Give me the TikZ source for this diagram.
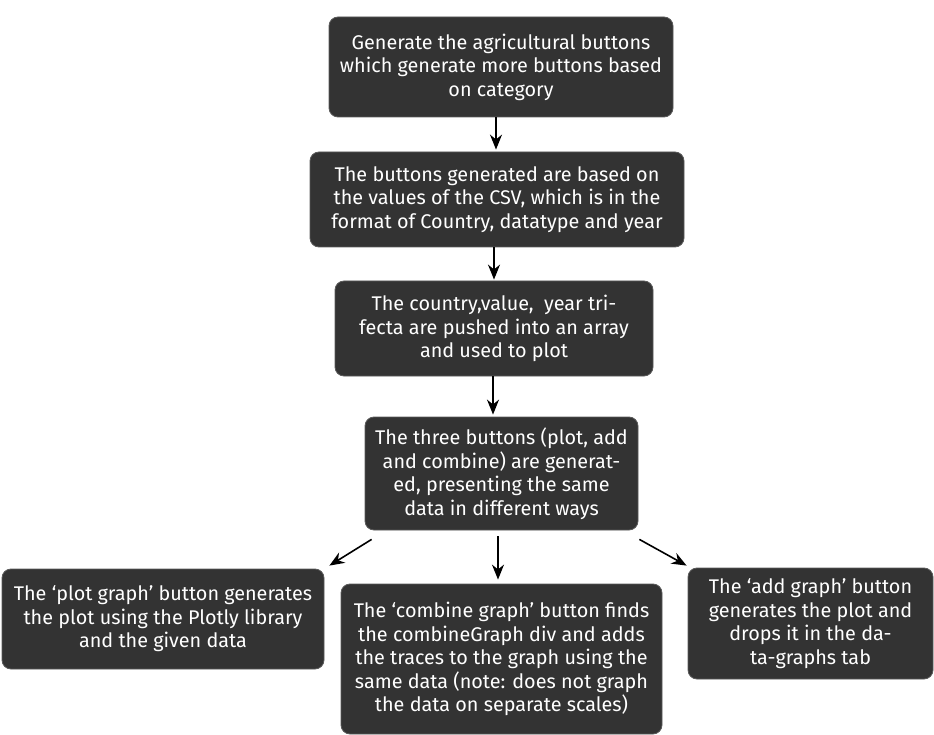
\documentclass[tikz,border=0pt]{standalone}
\usepackage{fontspec}
\setmainfont{Fira Sans}
\usetikzlibrary{arrows.meta,calc}
\definecolor{boxfill}{HTML}{333333}
\definecolor{boxline}{HTML}{5A5A5A}
\tikzset{
  flowbox/.style={draw=boxline, line width=0.8pt, fill=boxfill, rounded corners=9pt,
    text=white, align=center, font=\fontsize{19.8}{23.5}\selectfont, inner sep=0pt},
  conn/.style={-{Stealth[length=15pt,width=12pt]}, line width=1.6pt, black}
}
\begin{document}
\begin{tikzpicture}[x=1pt,y=1pt]
\useasboundingbox (0,0) rectangle (934,-735);
\node[flowbox, minimum width=344pt, minimum height=100pt] (b1) at (501,-67)
  {Generate the agricultural buttons\\which generate more buttons based\\on category};
\node[flowbox, minimum width=374pt, minimum height=95pt] (b2) at (497,-199.5)
  {The buttons generated are based on\\the values of the CSV, which is in the\\format of Country, datatype and year};
\node[flowbox, minimum width=318pt, minimum height=95pt] (b3) at (494,-328.5)
  {The country,value,\ \ year tri-\\fecta are pushed into an array\\and used to plot};
\node[flowbox, minimum width=273pt, minimum height=113pt] (b4) at (501.5,-473.5)
  {The three buttons (plot, add\\and combine) are generat-\\ed, presenting the same\\data in different ways};
\node[flowbox, minimum width=322pt, minimum height=100pt] (b5) at (163,-619)
  {The ‘plot graph’ button generates\\the plot using the Plotly library\\and the given data};
\node[flowbox, minimum width=321pt, minimum height=150pt] (b6) at (501.5,-659)
  {The ‘combine graph’ button finds\\the combineGraph div and adds\\the traces to the graph using the\\same data (note: does not graph\\the data on separate scales)};
\node[flowbox, minimum width=245pt, minimum height=111pt] (b7) at (810.5,-623.5)
  {The ‘add graph’ button\\generates the plot and\\drops it in the da-\\ta-graphs tab};
\draw[conn] (b1.south -| 496,0) -- ($(b2.north -| 496,0)+(0,2)$);
\draw[conn] (b2.south -| 494,0) -- ($(b3.north -| 494,0)+(0,1)$);
\draw[conn] (b3.south -| 493,0) -- ($(b4.north -| 493,0)+(0,2)$);
\draw[conn] ($(b4.south -| 498,0)+(0,-6)$) -- ($(b6.north -| 498,0)+(0,4)$);
\draw[conn] ($(b4.south west)+(7,-9)$) -- ($(b5.north east)+(5,3)$);
\draw[conn] ($(b4.south east)+(1,-9)$) -- ($(b7.north west)+(-1,2)$);
\end{tikzpicture}
\end{document}
